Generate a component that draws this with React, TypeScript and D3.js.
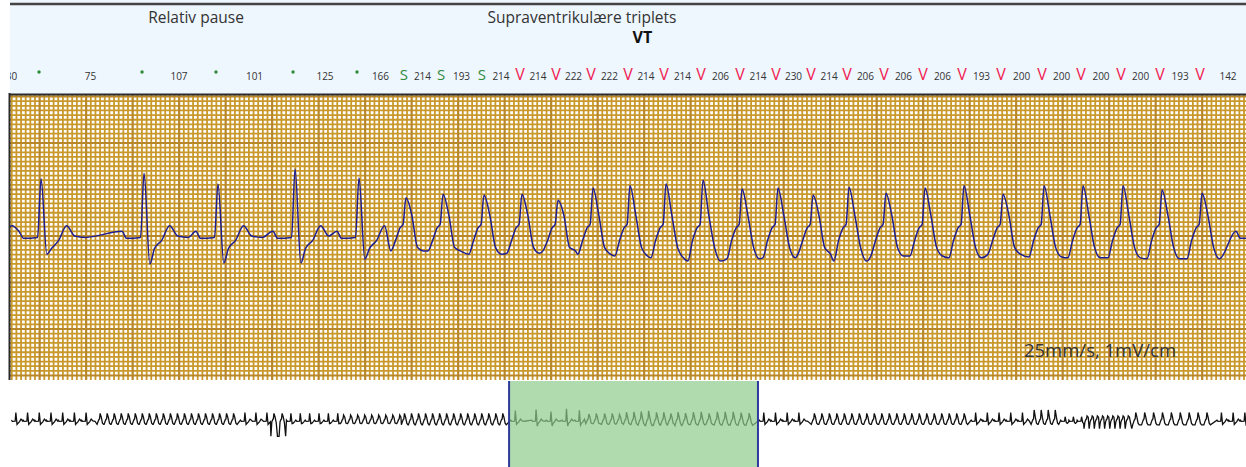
import React from 'react'
import * as d3 from 'd3'

const W = 1246
const H = 467

// main strip: beat times (s), types, R/peak and S/trough amplitudes (mV)
// first and last entries are the off-screen neighbours
const beatTimes = [
  -0.206, 0.267, 1.153, 1.789, 2.452, 3.002, 3.406, 3.725, 4.077, 4.404, 4.714, 5.015, 5.333, 5.643,
  5.961, 6.297, 6.606, 6.908, 7.217, 7.535, 7.871, 8.206, 8.542, 8.895, 9.23, 9.574, 9.91, 10.254, 10.735
]
const beatTypes = [
  'N', 'N', 'N', 'N', 'N', 'N', 'S', 'S', 'S', 'V', 'V', 'V', 'V', 'V',
  'V', 'V', 'V', 'V', 'V', 'V', 'V', 'V', 'V', 'V', 'V', 'V', 'V', 'V', 'N'
]
const beatPeaks = [
  1.2, 1.23, 1.35, 1.12, 1.44, 1.25, 0.82, 0.9, 0.88, 0.9, 0.77, 1.03, 1.08, 1.12,
  1.2, 1.01, 1.03, 0.88, 1.05, 0.92, 1.03, 1.08, 0.9, 1.08, 1.08, 1.08, 0.99, 0.92, 1.2
]
const beatTroughs = [
  -0.5, -0.39, -0.6, -0.58, -0.58, -0.5, -0.32, -0.32, -0.39, -0.37, -0.32, -0.39, -0.43, -0.47,
  -0.54, -0.49, -0.47, -0.39, -0.54, -0.43, -0.43, -0.47, -0.39, -0.45, -0.47, -0.47, -0.49, -0.49, -0.5
]
// heart rate between consecutive beats
const rateLabels = [
  '30', '75', '107', '101', '125', '166', '214', '193', '214', '214', '222', '222', '214', '214',
  '206', '214', '230', '214', '206', '206', '206', '193', '200', '200', '200', '200', '193', '142'
]

// beat morphologies: [dt (s), mV | 'p' peak | 't' trough]
const normalShape: [number, number | string][] = [
  [-0.19, 0.1], [-0.15, -0.05], [-0.03, -0.03], [0, 'p'], [0.05, 't'], [0.09, -0.27],
  [0.15, -0.1], [0.22, 0.22], [0.29, 0], [0.38, -0.03]
]
const ventricularShape: [number, number | string][] = [
  [-0.13, 't'], [-0.09, -0.1], [-0.05, 0.18], [-0.025, 0.25], [0, 'p'], [0.05, 0.45], [0.1, -0.25], [0.15, 't']
]

// overview of the whole recording: [start s, end s, type, RR s, peak mV, trough mV]
const overviewSegments: [number, number, string, number, number, number][] = [
  [0, 3.7, 'N', 0.5, 1.0, -0.4],
  [3.7, 9.8, 'V', 0.3, 0.9, -0.4],
  [9.8, 11.1, 'N', 0.47, 1.0, -0.4],
  [11.1, 11.8, 'V', 0.35, 0.9, -1.8],
  [11.8, 14.1, 'N', 0.4, 0.9, -0.3],
  [14.1, 16.7, 'V', 0.3, 0.7, -0.3],
  [16.7, 21.32, 'V', 0.3, 0.9, -0.45],
  [31.95, 34.2, 'N', 0.5, 1.0, -0.4],
  [34.2, 41.0, 'V', 0.32, 0.9, -0.4],
  [41.0, 43.6, 'N', 0.5, 1.0, -0.4],
  [43.6, 44.9, 'V', 0.3, 1.3, -0.4],
  [44.9, 45.9, 'N', 0.35, 0.5, -0.2],
  [45.9, 47.9, 'V', 0.22, 0.6, -0.9],
  [47.9, 51.5, 'V', 0.38, 1.0, -0.45],
  [51.5, 52.8, 'N', 0.5, 1.0, -0.4]
]
const overviewTotal = 52.8
const windowStart = 21.32
const windowLength = 10.632

const headerNotes = [
  { text: 'Relativ pause', t: 1.6, y: 23, bold: false },
  { text: 'Supraventrikulære triplets', t: 4.92, y: 23, bold: false },
  { text: 'VT', t: 5.44, y: 43, bold: true }
]

interface Beat { t: number; type: string; peak: number; trough: number }

const shapeOf = (type: string) => (type === 'N' ? normalShape : ventricularShape)

function buildTrace(beats: Beat[]): [number, number][] {
  const pts: [number, number][] = []
  beats.forEach((b, i) => {
    const next = beats[i + 1]
    const nextStart = next ? next.t + shapeOf(next.type)[0][0] : Infinity
    shapeOf(b.type).forEach(([dt, v]) => {
      const t = b.t + dt
      if (t >= nextStart) return
      if (pts.length && t <= pts[pts.length - 1][0]) return
      const val = v === 'p' ? b.peak : v === 't' ? b.trough : (v as number)
      pts.push([t, val])
    })
  })
  return pts
}

const mainBeats: Beat[] = beatTimes.map((t, i) => ({
  t, type: beatTypes[i], peak: beatPeaks[i], trough: beatTroughs[i]
}))

const overviewBeats: Beat[] = (() => {
  const list: Beat[] = []
  overviewSegments.forEach(([s, e, type, rr, peak, trough]) => {
    for (let t = s + rr / 2; t < e; t += rr) list.push({ t, type, peak, trough })
  })
  mainBeats.slice(1, -1).forEach(b => list.push({ ...b, t: b.t + windowStart }))
  return list.sort((a, b) => a.t - b.t)
})()

const App: React.FC = () => {
  const gridTop = 94
  const gridBottom = 380
  const left = 10

  const x = d3.scaleLinear().domain([0, windowLength]).range([left, W])
  const y = d3.scaleLinear().domain([-3.097, 3.054]).range([gridBottom, gridTop])
  const xo = d3.scaleLinear().domain([0, overviewTotal]).range([left, W])
  const yo = d3.scaleLinear().domain([-2, 2]).range([438, 404])

  const line = d3.line<[number, number]>().x(d => x(d[0])).y(d => y(d[1])).curve(d3.curveMonotoneX)
  const lineOv = d3.line<[number, number]>().x(d => xo(d[0])).y(d => yo(d[1]))

  // 1 mm = 0.04 s and 0.1 mV, heavier line each 10 mm
  const vLines = d3.range(-6, 262).map(k => ({ v: 0.255 + 0.04 * k, major: k % 10 === 0 }))
    .filter(d => x(d.v) > left && x(d.v) <= W)
  const hLines = d3.range(-30, 31).map(k => ({ v: k / 10, major: k % 10 === 0 }))
    .filter(d => y(d.v) > gridTop && y(d.v) <= gridBottom)

  const markerX = (t: number) => x(t) - 2

  return (
    <svg width={W} height={H} style={{ position: 'absolute', left: 0, top: 0, background: '#fff' }}
      fontFamily="'Open Sans', 'Noto Sans', sans-serif">
      <defs>
        <clipPath id="hdr"><rect x={left} y={0} width={W - left} height={gridTop} /></clipPath>
        <clipPath id="grid"><rect x={left} y={gridTop} width={W - left} height={gridBottom - gridTop} /></clipPath>
      </defs>

      {/* header */}
      <rect x={left} y={0} width={W - left} height={gridTop} fill="#eef6fe" />
      <line x1={left} x2={W} y1={4} y2={4} stroke="#444" strokeWidth={2.5} />
      {headerNotes.map(n => (
        <text key={n.text} x={x(n.t)} y={n.y} textAnchor="middle" fontSize={n.bold ? 16 : 15.5}
          fontWeight={n.bold ? 700 : 400} fill={n.bold ? '#111' : '#333'}>{n.text}</text>
      ))}
      <g clipPath="url(#hdr)">
        {mainBeats.map((b, i) => b.type === 'N'
          ? <circle key={i} cx={markerX(b.t)} cy={72} r={1.7} fill="#2e8b3a" />
          : <text key={i} x={markerX(b.t)} y={80} textAnchor="middle"
              fontSize={b.type === 'S' ? 15 : 16}
              fill={b.type === 'S' ? '#2e8b3a' : '#f0204f'}>{b.type}</text>
        )}
        {rateLabels.map((r, i) => (
          <text key={'r' + i} x={(markerX(beatTimes[i]) + markerX(beatTimes[i + 1])) / 2} y={80}
            textAnchor="middle" fontSize={10} fill="#333">{r}</text>
        ))}
      </g>

      {/* ECG paper */}
      <rect x={left} y={gridTop} width={W - left} height={gridBottom - gridTop} fill="#fff" />
      <g clipPath="url(#grid)">
        {vLines.filter(d => !d.major).map((d, i) => (
          <line key={'vm' + i} x1={x(d.v)} x2={x(d.v)} y1={gridTop} y2={gridBottom} stroke="#c9982b" strokeWidth={1.8} />
        ))}
        {hLines.filter(d => !d.major).map((d, i) => (
          <line key={'hm' + i} x1={left} x2={W} y1={y(d.v)} y2={y(d.v)} stroke="#c9982b" strokeWidth={1.8} />
        ))}
        {vLines.filter(d => d.major).map((d, i) => (
          <line key={'vM' + i} x1={x(d.v)} x2={x(d.v)} y1={gridTop} y2={gridBottom} stroke="#b8872a" strokeWidth={2.2} />
        ))}
        {hLines.filter(d => d.major).map((d, i) => (
          <line key={'hM' + i} x1={left} x2={W} y1={y(d.v)} y2={y(d.v)} stroke="#b8872a" strokeWidth={2.2} />
        ))}
        <path d={line(buildTrace(mainBeats)) || ''} fill="none" stroke="#1e1e92" strokeWidth={1.5}
          strokeLinejoin="round" />
      </g>
      <line x1={9.5} x2={9.5} y1={gridTop - 1} y2={gridBottom} stroke="#2b2b2b" strokeWidth={2} />
      <line x1={9} x2={W} y1={gridTop + 0.5} y2={gridTop + 0.5} stroke="#2b2b2b" strokeWidth={2} />
      <text x={1100} y={357} textAnchor="middle" fontSize={18.5} fill="#333">25mm/s, 1mV/cm</text>

      {/* overview */}
      <path d={lineOv(buildTrace(overviewBeats)) || ''} fill="none" stroke="#111" strokeWidth={1.3} />
      <rect x={xo(windowStart)} y={gridBottom + 1} width={xo(windowStart + windowLength) - xo(windowStart)}
        height={H - gridBottom - 1} fill="#8fcc8c" opacity={0.7} />
      {[windowStart, windowStart + windowLength].map(t => (
        <line key={t} x1={xo(t)} x2={xo(t)} y1={gridBottom + 1} y2={H} stroke="#2c3a9c" strokeWidth={2} />
      ))}
    </svg>
  )
}

export default App
